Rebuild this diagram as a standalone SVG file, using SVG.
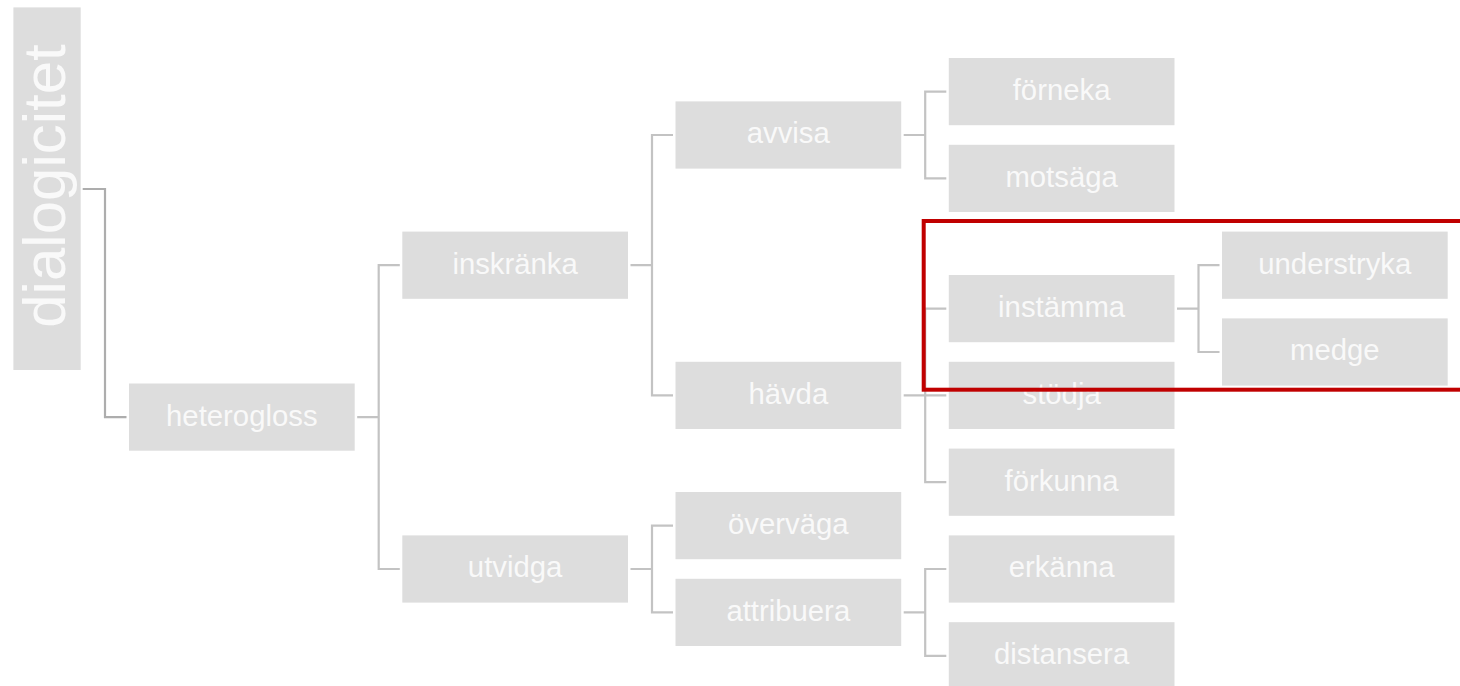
<svg xmlns="http://www.w3.org/2000/svg" width="1460" height="686" viewBox="0 0 1460 686">
<style>
.box{fill:#dddddd}
.lbl{fill:#f9f9f9;font-family:"Liberation Sans",Arial,sans-serif;font-size:29.3px;text-anchor:middle}
.big{fill:#f9f9f9;font-family:"Liberation Sans",Arial,sans-serif;font-size:60px;text-anchor:middle}
.con{fill:none;stroke:#c3c3c3;stroke-width:2.2}
.con0{fill:none;stroke:#adadad;stroke-width:2.2}
</style>
<rect width="1460" height="686" fill="#ffffff"/>
<g id="connectors">
<path class="con0" d="M82.7,189 H105 V417.1 H126.5"/>
<path class="con" d="M357.2,417.1 H378.7 M399.8,265.2 H378.7 V569 H399.8"/>
<path class="con" d="M630.5,265.2 H652 M673,135 H652 V395.4 H673"/>
<path class="con" d="M630.5,569 H652 M673,525.6 H652 V612.4 H673"/>
<path class="con" d="M903.7,135 H925.2 M946.3,91.6 H925.2 V178.4 H946.3"/>
<path class="con" d="M903.7,395.4 H946.3 M946.3,308.6 H925.2 V482.2 H946.3"/>
<path class="con" d="M903.7,612.4 H925.2 M946.3,569 H925.2 V655.8 H946.3"/>
<path class="con" d="M1177,308.6 H1198.5 M1219.5,265.2 H1198.5 V352 H1219.5"/>
</g>
<g id="dialogicitet"><rect class="box" x="13.4" y="7.4" width="67.3" height="362.6"/><text class="big" transform="translate(64.5,186) rotate(-90)">dialogicitet</text></g>
<g id="heterogloss"><rect class="box" x="129" y="383.5" width="225.7" height="67.2"/><text class="lbl" x="241.8" y="425.5">heterogloss</text></g>
<g id="inskranka"><rect class="box" x="402.3" y="231.6" width="225.7" height="67.2"/><text class="lbl" x="515.1" y="273.6">inskränka</text></g>
<g id="utvidga"><rect class="box" x="402.3" y="535.4" width="225.7" height="67.2"/><text class="lbl" x="515.1" y="577.4">utvidga</text></g>
<g id="avvisa"><rect class="box" x="675.5" y="101.4" width="225.7" height="67.2"/><text class="lbl" x="788.3" y="143.4">avvisa</text></g>
<g id="havda"><rect class="box" x="675.5" y="361.8" width="225.7" height="67.2"/><text class="lbl" x="788.3" y="403.8">hävda</text></g>
<g id="overvaga"><rect class="box" x="675.5" y="492" width="225.7" height="67.2"/><text class="lbl" x="788.3" y="534">överväga</text></g>
<g id="attribuera"><rect class="box" x="675.5" y="578.8" width="225.7" height="67.2"/><text class="lbl" x="788.3" y="620.8">attribuera</text></g>
<g id="forneka"><rect class="box" x="948.8" y="58" width="225.7" height="67.2"/><text class="lbl" x="1061.6" y="100">förneka</text></g>
<g id="motsaga"><rect class="box" x="948.8" y="144.8" width="225.7" height="67.2"/><text class="lbl" x="1061.6" y="186.8">motsäga</text></g>
<g id="instamma"><rect class="box" x="948.8" y="275" width="225.7" height="67.2"/><text class="lbl" x="1061.6" y="317">instämma</text></g>
<g id="stodja"><rect class="box" x="948.8" y="361.8" width="225.7" height="67.2"/><text class="lbl" x="1061.6" y="403.8">stödja</text></g>
<g id="forkunna"><rect class="box" x="948.8" y="448.6" width="225.7" height="67.2"/><text class="lbl" x="1061.6" y="490.6">förkunna</text></g>
<g id="erkanna"><rect class="box" x="948.8" y="535.4" width="225.7" height="67.2"/><text class="lbl" x="1061.6" y="577.4">erkänna</text></g>
<g id="distansera"><rect class="box" x="948.8" y="622.2" width="225.7" height="67.2"/><text class="lbl" x="1061.6" y="664.2">distansera</text></g>
<g id="understryka"><rect class="box" x="1222" y="231.6" width="225.7" height="67.2"/><text class="lbl" x="1334.8" y="273.6">understryka</text></g>
<g id="medge"><rect class="box" x="1222" y="318.4" width="225.7" height="67.2"/><text class="lbl" x="1334.8" y="360.4">medge</text></g>
<g id="highlight"><rect x="923.7" y="221" width="560" height="168.7" fill="none" stroke="#c00000" stroke-width="4"/></g>
</svg>
